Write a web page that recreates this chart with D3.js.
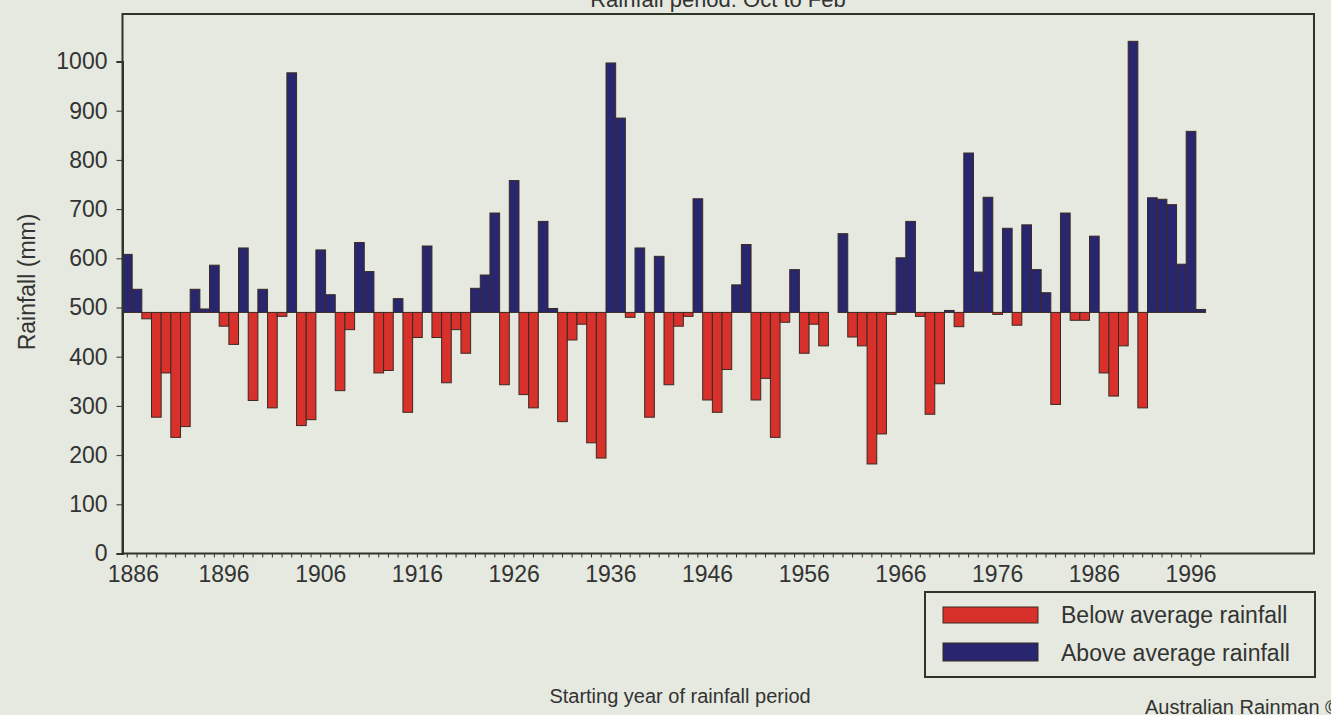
<!DOCTYPE html>
<html>
<head>
<meta charset="utf-8">
<script src="https://cdn.jsdelivr.net/npm/d3@7"></script>
<style>
  html, body { margin: 0; padding: 0; background: #e5e9df; }
  svg { display: block; }
  text { font-family: "Liberation Sans", Arial, sans-serif; fill: #333; }
</style>
</head>
<body>
<svg id="chart" width="1331" height="715"></svg>
<script>
// ---- data ----
const startYears = d3.range(1886, 1998);
const rainfall = [
  608, 537, 477, 277, 367, 236, 258, 537, 497, 586,   // 1886-1895
  462, 425, 621, 311, 537, 296, 482, 977, 260, 272,   // 1896-1905
  617, 526, 331, 455, 632, 573, 367, 372, 518, 287,   // 1906-1915
  439, 625, 439, 347, 455, 407, 539, 566, 692, 343,   // 1916-1925
  758, 323, 296, 675, 498, 268, 434, 466, 225, 194,   // 1926-1935
  997, 885, 480, 621, 277, 604, 343, 462, 482, 721,   // 1936-1945
  312, 287, 374, 546, 628, 312, 356, 236, 470, 577,   // 1946-1955
  407, 466, 422, 490, 650, 440, 422, 182, 243, 486,   // 1956-1965
  601, 675, 482, 283, 345, 494, 461, 814, 572, 724,   // 1966-1975
  486, 661, 464, 668, 577, 530, 303, 692, 474, 474,   // 1976-1985
  645, 367, 320, 422, 1041, 296, 723, 720, 709, 588,  // 1986-1995
  858, 496                                            // 1996-1997
];
const averageRainfall = 490;
const yTickValues = [0, 100, 200, 300, 400, 500, 600, 700, 800, 900, 1000];
const xLabelYears = [1886, 1896, 1906, 1916, 1926, 1936, 1946, 1956, 1966, 1976, 1986, 1996];
const legendLabels = ["Below average rainfall", "Above average rainfall"];
const titleText = "Rainfall period: Oct to Feb";
const xTitle = "Starting year of rainfall period";
const yTitle = "Rainfall (mm)";
const creditText = "Australian Rainman ©";

// ---- layout ----
const svg = d3.select("#chart");
const frame = { left: 122.5, top: 14, right: 1314, bottom: 553.5 };
const RED = "#d8312c", BLUE = "#28266f", EDGE = "#3b2a22", INK = "#333";

const x = d3.scaleBand()
  .domain(startYears)
  .range([frame.left, frame.left + startYears.length * 9.67])
  .padding(0);

const y = d3.scaleLinear()
  .domain([0, 1000])
  .range([553.5, 61.5]);

// plot frame
svg.append("rect")
  .attr("x", frame.left).attr("y", frame.top)
  .attr("width", frame.right - frame.left)
  .attr("height", frame.bottom - frame.top)
  .attr("fill", "#e5e9df")
  .attr("stroke", "#2f3526").attr("stroke-width", 2);

// bars
const data = startYears.map((yr, i) => ({ year: yr, value: rainfall[i] }));
svg.append("g").selectAll("rect")
  .data(data)
  .join("rect")
  .attr("x", d => x(d.year))
  .attr("width", x.bandwidth())
  .attr("y", d => y(Math.max(d.value, averageRainfall)))
  .attr("height", d => Math.abs(y(d.value) - y(averageRainfall)))
  .attr("fill", d => d.value < averageRainfall ? RED : BLUE)
  .attr("stroke", EDGE)
  .attr("stroke-width", 1);

// y axis
const yAxis = svg.append("g")
  .attr("transform", `translate(${frame.left},0)`)
  .call(d3.axisLeft(y).tickValues(yTickValues).tickSize(6).tickPadding(9).tickFormat(d3.format("d")));
yAxis.select(".domain").attr("stroke", "#2f3526").attr("stroke-width", 2);
yAxis.selectAll(".tick line").attr("stroke", INK);
yAxis.selectAll(".tick text")
  .attr("font-size", 23).attr("fill", INK)
  .style("font-family", "'Liberation Sans', Arial, sans-serif");

// x axis
const xAxis = svg.append("g")
  .attr("transform", `translate(0,${frame.bottom})`)
  .call(d3.axisBottom(x)
    .tickValues(startYears)
    .tickSize(4)
    .tickPadding(8)
    .tickFormat(d => xLabelYears.includes(d) ? String(d) : ""));
xAxis.select(".domain").remove();
xAxis.selectAll(".tick line").attr("stroke", INK);
xAxis.selectAll(".tick text")
  .attr("font-size", 23).attr("fill", INK)
  .attr("dx", d => d === 1886 ? 6 : 0)
  .style("font-family", "'Liberation Sans', Arial, sans-serif");

// titles
svg.append("text")
  .attr("x", 718).attr("y", 7)
  .attr("text-anchor", "middle")
  .attr("font-size", 22)
  .text(titleText);

svg.append("text")
  .attr("x", 680).attr("y", 703)
  .attr("text-anchor", "middle")
  .attr("font-size", 20)
  .text(xTitle);

svg.append("text")
  .attr("transform", "translate(35,282) rotate(-90)")
  .attr("text-anchor", "middle")
  .attr("font-size", 23)
  .text(yTitle);

// legend
const legend = svg.append("g");
legend.append("rect")
  .attr("x", 925).attr("y", 592).attr("width", 390).attr("height", 85)
  .attr("fill", "none").attr("stroke", "#2f3526").attr("stroke-width", 2);
const legendColors = [RED, BLUE];
const legendRows = [{ top: 607, h: 16, base: 623 }, { top: 643, h: 18, base: 661 }];
legendLabels.forEach((lab, i) => {
  legend.append("rect")
    .attr("x", 943).attr("y", legendRows[i].top)
    .attr("width", 95).attr("height", legendRows[i].h)
    .attr("fill", legendColors[i]).attr("stroke", EDGE).attr("stroke-width", 1);
  legend.append("text")
    .attr("x", 1061).attr("y", legendRows[i].base)
    .attr("font-size", 23)
    .text(lab);
});

// credit
svg.append("text")
  .attr("x", 1145).attr("y", 714)
  .attr("font-size", 20)
  .text(creditText);
</script>
</body>
</html>
